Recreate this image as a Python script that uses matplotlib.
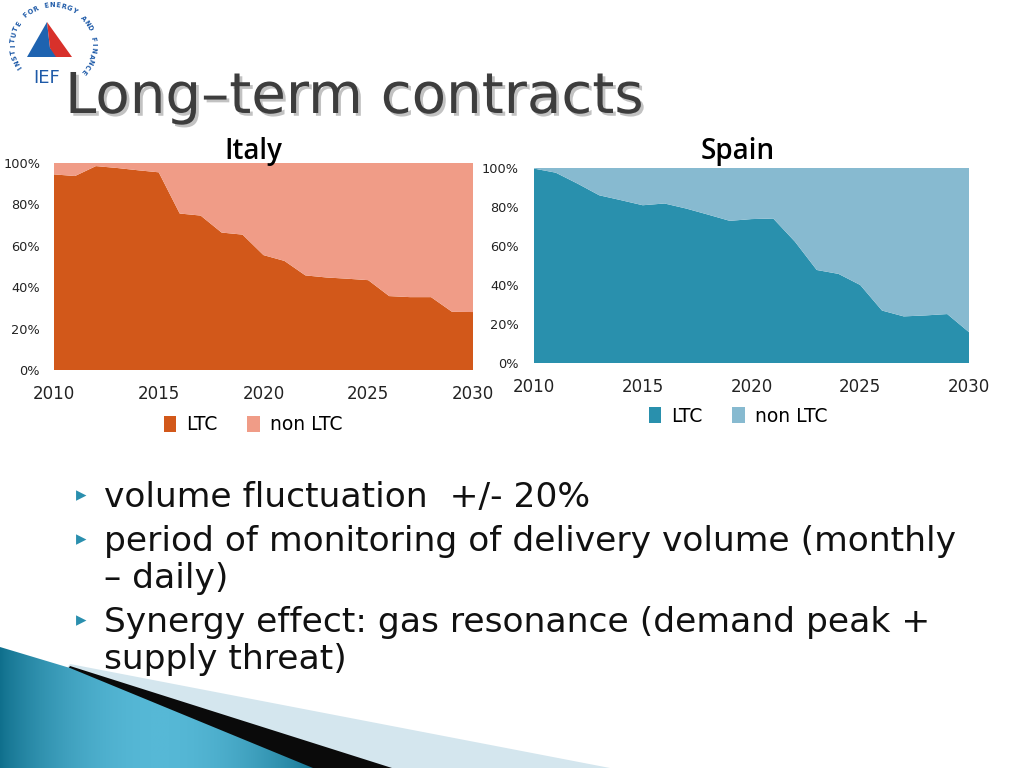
import matplotlib
matplotlib.use("Agg")
import matplotlib.pyplot as plt
import matplotlib.patheffects as pe
from matplotlib.patches import Polygon
import numpy as np

# data (share of long-term contracts, %)
years = list(range(2010, 2031))
italy_ltc = [94.5, 93.7, 98.5, 97.6, 96.5, 95.5, 75.6, 74.6, 66.4, 65.4, 55.5,
             52.7, 45.7, 44.7, 44.1, 43.4, 35.7, 35.2, 35.2, 28.1, 28.0]
spain_ltc = [99.7, 97.6, 92.0, 86.0, 83.5, 80.9, 81.8, 79.2, 76.1, 72.9, 73.8,
             74.1, 62.2, 47.7, 45.7, 40.0, 26.9, 23.9, 24.4, 25.1, 15.8]
italy_non = [100 - v for v in italy_ltc]
spain_non = [100 - v for v in spain_ltc]
series_names = ["LTC", "non LTC"]
xticks = [2010, 2015, 2020, 2025, 2030]
yticks = [0, 20, 40, 60, 80, 100]
ytick_labels = ["0%", "20%", "40%", "60%", "80%", "100%"]

# bullet text, one entry per printed line: (text, starts a bullet)
bullet_lines = [("volume fluctuation  +/- 20%", True),
                ("period of monitoring of delivery volume (monthly", True),
                ("\u2013 daily)", False),
                ("Synergy effect: gas resonance (demand peak +", True),
                ("supply threat)", False)]

W, H = 1024, 768
fig = plt.figure(figsize=(10.24, 7.68), dpi=100)

# background layer in pixel coords
bg = fig.add_axes([0, 0, 1, 1], zorder=0)
bg.set_xlim(0, W)
bg.set_ylim(H, 0)
bg.axis("off")

# bottom-left decoration
bg.add_patch(Polygon([(70, 664), (610, 768), (0, 768)], closed=True,
                     color="#d4e6ee", lw=0))
bg.add_patch(Polygon([(70, 666), (392, 768), (0, 768)], closed=True,
                     color="#0a0a0a", lw=0))
blue = Polygon([(0, 647), (70, 668), (313, 768), (0, 768)], closed=True,
               facecolor="none", lw=0)
bg.add_patch(blue)
grad = np.linspace(0, 1, 256)
grad = np.sin(grad * np.pi) ** 0.8
cmap = matplotlib.colors.LinearSegmentedColormap.from_list(
    "dec", ["#0f6f8c", "#56b8d6"])
im = bg.imshow(np.tile(grad, (10, 1)), extent=[0, 320, 768, 640], cmap=cmap,
               aspect="auto", zorder=1)
im.set_clip_path(blue)

# logo
bg.add_patch(Polygon([(27, 57), (47, 22), (50, 48), (62, 57)], closed=True,
                     color="#1e63b0", lw=0))
bg.add_patch(Polygon([(47, 22), (72, 57), (56, 57), (50, 48)], closed=True,
                     color="#d8312b", lw=0))
bg.text(33, 83, "IEF", fontsize=13, color="#1e5aa8",
        va="baseline", ha="left")
logo_txt = "INSTITUTE FOR ENERGY AND FINANCE"
cx, cy, r = 53, 45, 40
angs = np.linspace(214, -40, len(logo_txt))
for ch, a in zip(logo_txt, angs):
    ar = np.deg2rad(a)
    bg.text(cx + r * np.cos(ar), cy - r * np.sin(ar), ch, fontsize=4.8,
            color="#1e5aa8", fontweight="bold", rotation=a - 90,
            ha="center", va="center")

# title
fig.text(65 / W, 1 - 113 / H, "Long\u2013term contracts", fontsize=40.5,
         color="#3d3d3d", va="baseline", ha="left",
         path_effects=[pe.withSimplePatchShadow(offset=(2, -2),
                                                shadow_rgbFace="#9a9a9a",
                                                alpha=0.6)])

# bullets
baselines = [507, 551, 588, 632, 669]
for (txt, has_bullet), yb in zip(bullet_lines, baselines):
    if has_bullet:
        fig.text(76 / W, 1 - (yb - 12) / H, "\u25b8", fontsize=15,
                 color="#2a8fae", va="center", ha="left")
    fig.text(104 / W, 1 - yb / H, txt, fontsize=24.8, color="#111111",
             va="baseline", ha="left")


def area_chart(rect, ltc, non, colors, title, title_x, ypad, legend_y):
    ax = fig.add_axes(rect, zorder=2)
    ax.stackplot(years, ltc, non, colors=colors, labels=series_names, lw=0)
    ax.set_xlim(2010, 2030)
    ax.set_ylim(0, 100)
    ax.set_xticks(xticks)
    ax.set_yticks(yticks)
    ax.set_yticklabels(ytick_labels)
    ax.tick_params(length=0, colors="#222222")
    ax.tick_params(axis="y", labelsize=9.3, pad=ypad)
    ax.tick_params(axis="x", labelsize=12, pad=11)
    for s in ax.spines.values():
        s.set_visible(False)
    fig.text(title_x / W, 1 - 152 / H, title, fontsize=20,
             fontweight="semibold", ha="center", va="center",
             family="Open Sans")
    ax.legend(loc="center", bbox_to_anchor=(title_x / W, legend_y),
              bbox_transform=fig.transFigure, ncol=2, frameon=False,
              fontsize=13.5, handlelength=0.65, handleheight=0.95,
              handletextpad=0.55, columnspacing=1.6)
    return ax


area_chart([54 / W, 1 - 370 / H, 419 / W, 207 / H], italy_ltc, italy_non,
           ["#d2581a", "#f09c87"], "Italy", 253, 10, 1 - 425 / H)
area_chart([534 / W, 1 - 363 / H, 435 / W, 195 / H], spain_ltc, spain_non,
           ["#2990ad", "#87bad0"], "Spain", 738, 11, 1 - 416 / H)

fig.savefig("out.png", dpi=100)
